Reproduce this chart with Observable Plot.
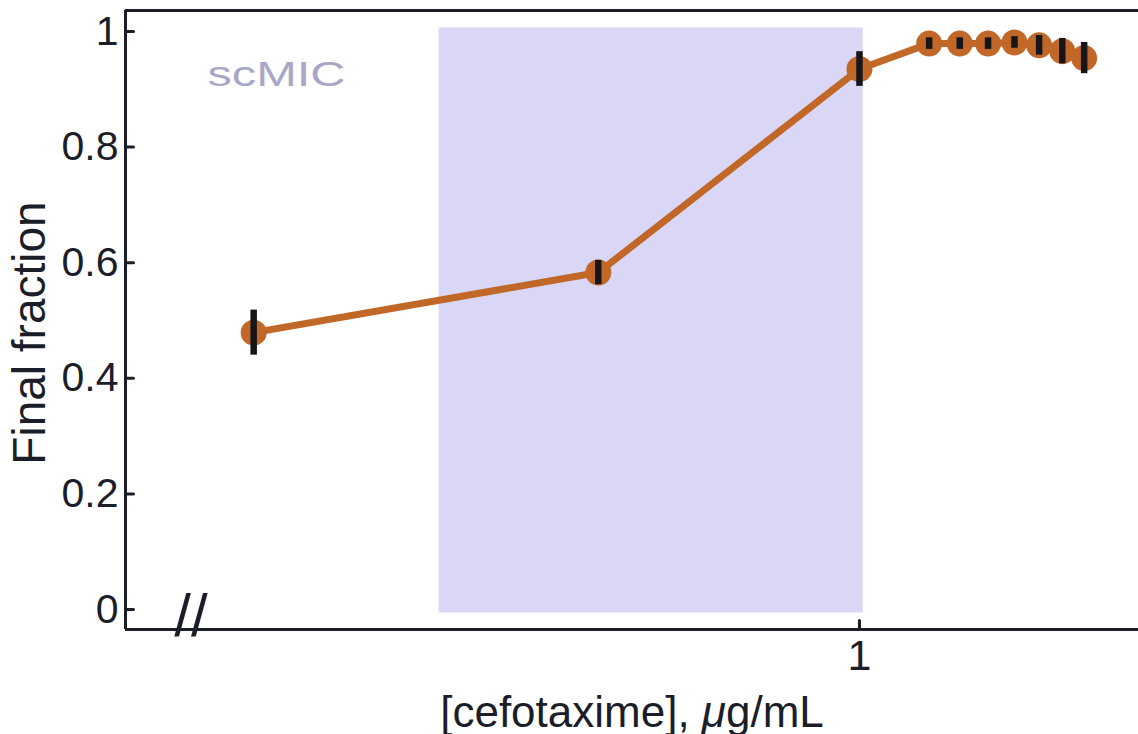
<!DOCTYPE html>
<html>
<head>
<meta charset="utf-8">
<script src="https://cdn.jsdelivr.net/npm/d3@7"></script>
<script src="https://cdn.jsdelivr.net/npm/@observablehq/plot@0.6"></script>
<style>
  html, body { margin: 0; padding: 0; background: #ffffff; }
  #chart { width: 1138px; height: 734px; }
</style>
</head>
<body>
<div id="chart"></div>
<script>
// Cefotaxime concentration (µg/mL); the lowest point sits left of the axis break
const concentration = [0.205, 0.505, 1, 1.2, 1.3, 1.4, 1.5, 1.6, 1.7, 1.8];
// Final fraction of the population and its error (± half-length of the bar)
const finalFraction = [0.479, 0.583, 0.935, 0.979, 0.979, 0.979, 0.981, 0.976, 0.966, 0.954];
const fractionError = [0.039, 0.021, 0.030, 0.010, 0.010, 0.010, 0.010, 0.017, 0.022, 0.027];

// Shaded single-cell MIC band
const scMicRange = [0.333, 1.01];
const scMicLabel = "scMIC";

// Axis ticks and labels
const yTicks = [0, 0.2, 0.4, 0.6, 0.8, 1];
const yTickLabels = ["0", "0.2", "0.4", "0.6", "0.8", "1"];
const xTicks = [1];
const xTickLabels = ["1"];
const xLabel = "[cefotaxime], \u03bcg/mL";
const yLabel = "Final fraction";

const xDomain = [0.1466, 2.075];
const yDomain = [-0.0346, 1.0363];
const breakAt = 0.174;

const rows = concentration.map((c, i) => ({
  c,
  f: finalFraction[i],
  lo: finalFraction[i] - fractionError[i],
  hi: finalFraction[i] + fractionError[i]
}));

const ink = "#1b1e28";
const orange = "#c16828";

// A plain line segment shape for inward tick marks
const tickShape = {
  draw(context, l) {
    context.moveTo(0, 0);
    context.lineTo(0, -l);
  }
};

const chart = Plot.plot({
  width: 1138,
  height: 734,
  marginLeft: 125,
  marginRight: 0,
  marginTop: 10,
  marginBottom: 105,
  style: {
    fontFamily: "'Liberation Sans', Arial, Helvetica, sans-serif",
    fontSize: "41px",
    background: "#ffffff",
    color: ink,
    overflow: "visible"
  },
  x: { type: "log", domain: xDomain, axis: null },
  y: { domain: yDomain, axis: null },
  marks: [
    // scMIC band
    Plot.rect([scMicRange], {
      x1: d => d[0], x2: d => d[1],
      y1: -0.006, y2: 1.006,
      fill: "#d9d7f5"
    }),
    Plot.text([scMicLabel], {
      frameAnchor: "top-left",
      text: d => d,
      dx: 82, dy: 64,
      textAnchor: "start",
      lineAnchor: "middle",
      fill: "#a9a7c7",
      fontSize: 35,
      className: "scmic-label"
    }),

    // Tick labels
    Plot.text(yTicks, {
      x: () => xDomain[0], y: d => d,
      text: (d, i) => yTickLabels[i],
      textAnchor: "end", lineAnchor: "middle",
      dx: -7, fill: ink, fontSize: 41
    }),
    Plot.text(xTicks, {
      x: d => d, y: () => yDomain[0],
      text: (d, i) => xTickLabels[i],
      textAnchor: "middle", lineAnchor: "top",
      dy: 10, fill: ink, fontSize: 43
    }),

    // Inward tick marks
    Plot.vector(yTicks, {
      x: () => xDomain[0], y: d => d,
      rotate: 90, length: 8, anchor: "start",
      shape: tickShape, stroke: ink, strokeWidth: 3
    }),
    Plot.vector(xTicks, {
      x: d => d, y: () => yDomain[0],
      rotate: 0, length: 9, anchor: "start",
      shape: tickShape, stroke: ink, strokeWidth: 3
    }),

    // Frame: left, top and bottom edges
    Plot.ruleX([xDomain[0]], { stroke: ink, strokeWidth: 3 }),
    Plot.ruleY([yDomain[0], yDomain[1]], { stroke: ink, strokeWidth: 3 }),

    // Axis break on the concentration axis
    Plot.text(["//"], {
      x: breakAt, y: yDomain[0],
      text: d => d,
      lineAnchor: "bottom",
      textAnchor: "middle",
      dy: 6,
      fontSize: 60,
      fill: ink
    }),

    // Axis titles
    Plot.text([yLabel], {
      frameAnchor: "left", text: d => d,
      textAnchor: "middle", lineAnchor: "middle",
      rotate: -90, dx: -95, dy: 13,
      fill: ink, fontSize: 46,
      className: "y-title"
    }),
    Plot.text([xLabel], {
      frameAnchor: "bottom", text: d => d,
      textAnchor: "middle", lineAnchor: "middle",
      dy: 83, fill: ink, fontSize: 44,
      className: "x-title"
    }),

    // Data: connecting line, markers, error bars
    Plot.line(rows, { x: "c", y: "f", stroke: orange, strokeWidth: 7 }),
    Plot.dot(rows, { x: "c", y: "f", r: 13, fill: orange, stroke: null }),
    Plot.ruleX(rows, { x: "c", y1: "lo", y2: "hi", stroke: "#16161a", strokeWidth: 6.5 })
  ]
});

document.getElementById("chart").appendChild(chart);

// Stretch the band label to its drawn width
d3.select(chart).selectAll(".scmic-label text")
  .attr("textLength", 138)
  .attr("lengthAdjust", "spacingAndGlyphs");

// Italic mu in the concentration unit
d3.select(chart).selectAll(".x-title text").each(function () {
  const t = d3.select(this);
  const s = t.text();
  const k = s.indexOf("\u03bc");
  if (k < 0) return;
  t.text(null);
  t.append("tspan").text(s.slice(0, k));
  t.append("tspan").attr("font-style", "italic").text("\u03bc");
  t.append("tspan").text(s.slice(k + 1));
});
</script>
</body>
</html>
